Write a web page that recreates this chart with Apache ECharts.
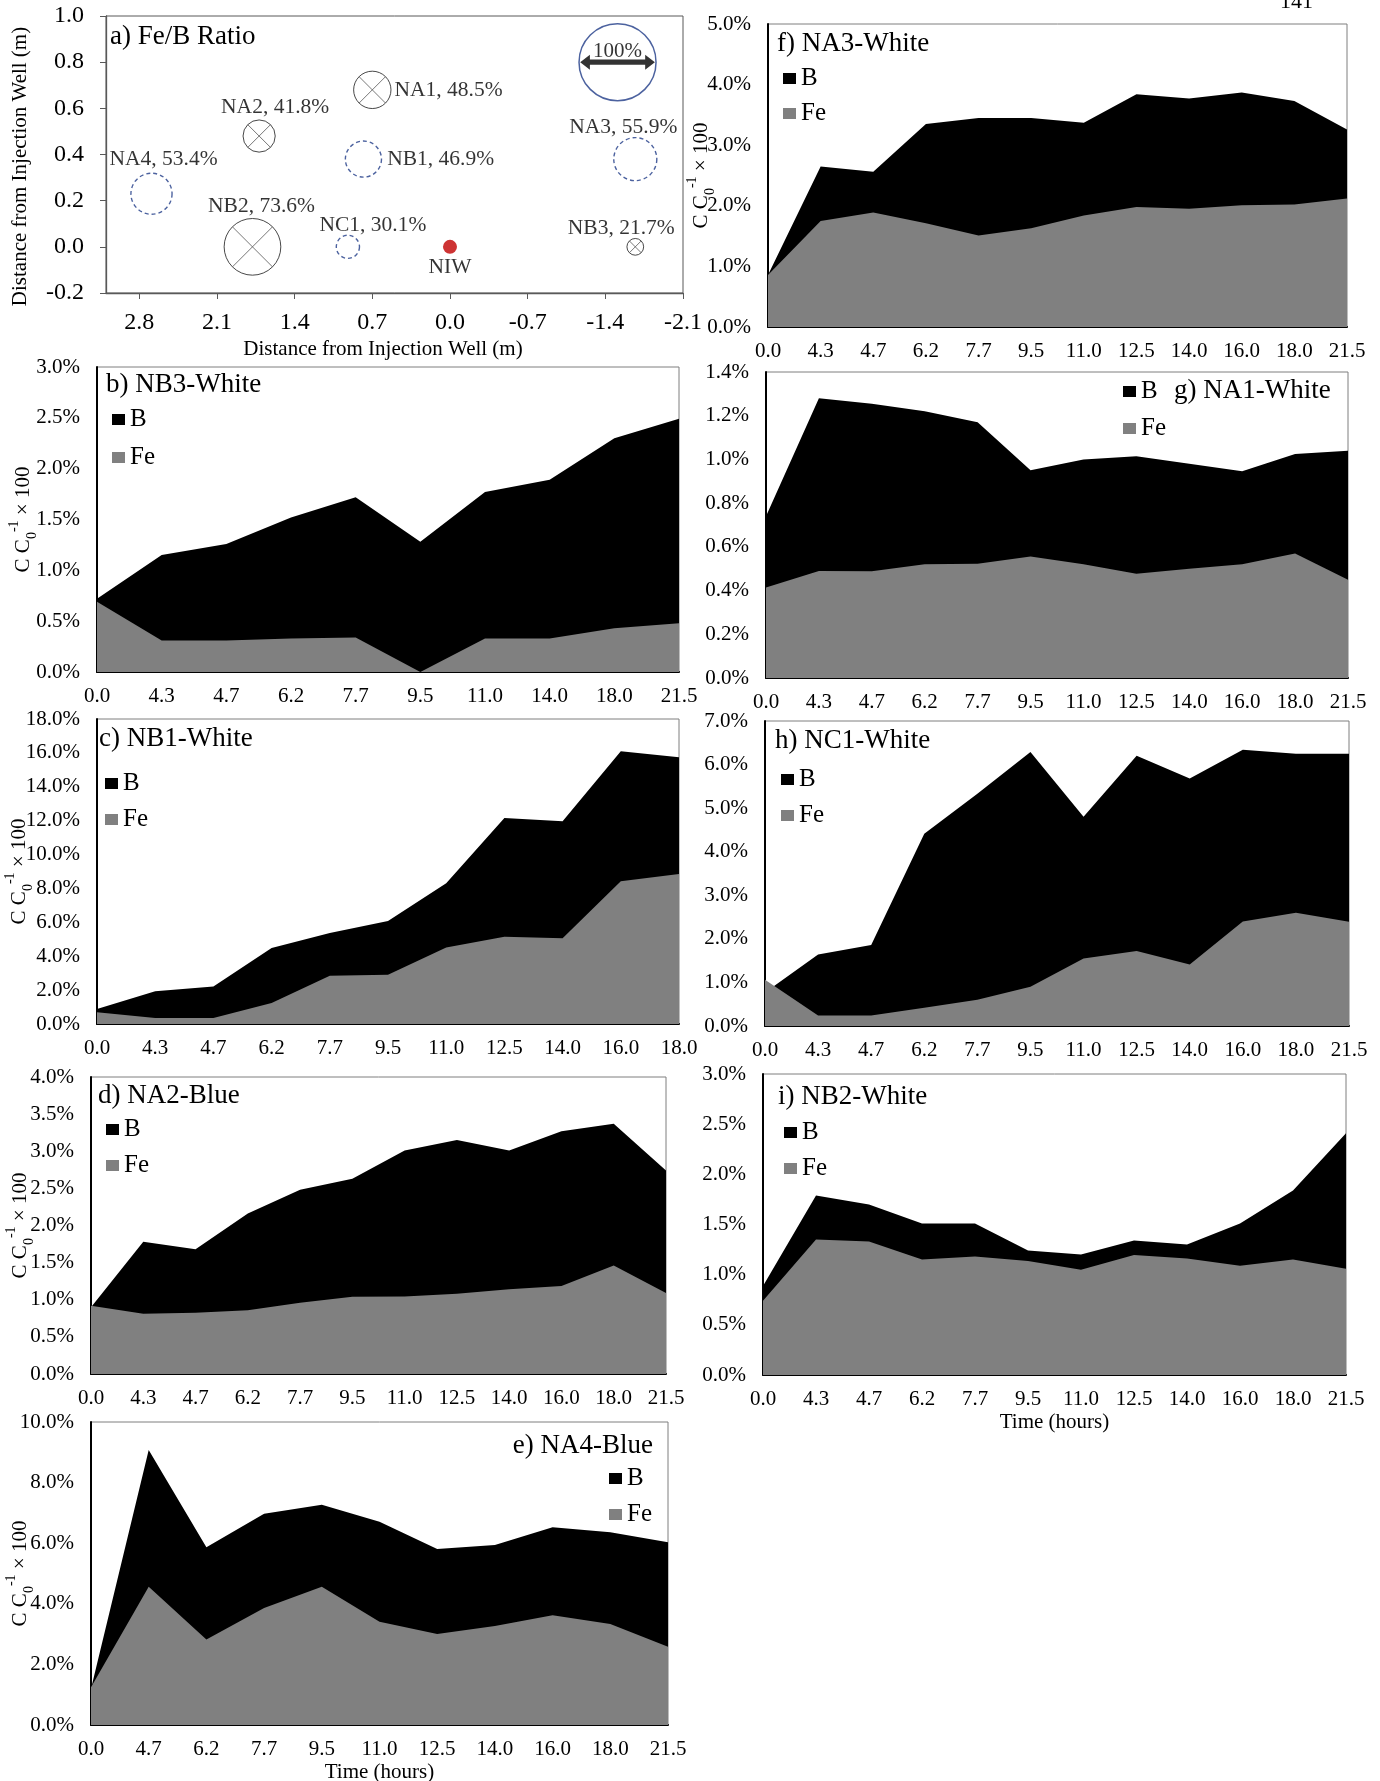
<!DOCTYPE html>
<html><head><meta charset="utf-8">
<script src="https://cdn.jsdelivr.net/npm/echarts@6/dist/echarts.min.js"></script>
<style>html,body{margin:0;padding:0;background:#fff}#c{width:1380px;height:1781px}</style>
</head><body><div id="c"></div>
<script>
// ---------- Panel a: Fe/B ratio map ----------
const wellNames = ['NA1','NA2','NA4','NB1','NB2','NC1','NA3','NB3'];
const wellX     = [0.70, 1.72, 2.69, 0.78, 1.78, 0.92, -1.67, -1.67];
const wellY     = [0.68, 0.48, 0.23, 0.38, 0.00, 0.00, 0.38, 0.00];
const wellRatio = [48.5, 41.8, 53.4, 46.9, 73.6, 30.1, 55.9, 21.7];
const injName = 'NIW', injX = 0.0, injY = 0.0;
const refLabel = '100%', refRatio = 100, refX = -1.51, refY = 0.80;

// ---------- Area panels (values in %) ----------
const catF = ['0.0','4.3','4.7','6.2','7.7','9.5','11.0','12.5','14.0','16.0','18.0','21.5'];
const bF   = [0.86,2.65,2.56,3.35,3.45,3.45,3.37,3.84,3.77,3.87,3.73,3.26];
const feF  = [0.86,1.75,1.89,1.71,1.51,1.63,1.84,1.98,1.95,2.01,2.02,2.12];

const catB = ['0.0','4.3','4.7','6.2','7.7','9.5','11.0','14.0','18.0','21.5'];
const bB   = [0.72,1.15,1.26,1.52,1.72,1.28,1.77,1.89,2.30,2.49];
const feB  = [0.69,0.31,0.31,0.33,0.34,0.00,0.33,0.33,0.43,0.48];

const catG = ['0.0','4.3','4.7','6.2','7.7','9.5','11.0','12.5','14.0','16.0','18.0','21.5'];
const bG   = [0.74,1.28,1.255,1.22,1.17,0.95,1.00,1.015,0.98,0.946,1.025,1.04];
const feG  = [0.414,0.49,0.488,0.52,0.523,0.556,0.52,0.477,0.50,0.52,0.57,0.45];

const catC = ['0.0','4.3','4.7','6.2','7.7','9.5','11.0','12.5','14.0','16.0','18.0'];
const bC   = [0.89,1.93,2.22,4.49,5.37,6.08,8.30,12.16,11.96,16.09,15.74];
const feC  = [0.69,0.35,0.35,1.24,2.85,2.91,4.52,5.15,5.06,8.42,8.85];

const catH = ['0.0','4.3','4.7','6.2','7.7','9.5','11.0','12.5','14.0','16.0','18.0','21.5'];
const bH   = [0.77,1.64,1.86,4.41,5.33,6.29,4.80,6.20,5.68,6.34,6.25,6.25];
const feH  = [1.06,0.24,0.24,0.42,0.60,0.90,1.55,1.72,1.41,2.40,2.60,2.39];

const catD = ['0.0','4.3','4.7','6.2','7.7','9.5','11.0','12.5','14.0','16.0','18.0','21.5'];
const bD   = [0.90,1.78,1.68,2.16,2.48,2.63,3.01,3.15,3.01,3.27,3.37,2.74];
const feD  = [0.92,0.81,0.825,0.86,0.96,1.04,1.045,1.08,1.14,1.185,1.46,1.09];

const catI = ['0.0','4.3','4.7','6.2','7.7','9.5','11.0','12.5','14.0','16.0','18.0','21.5'];
const bI   = [0.886,1.79,1.70,1.51,1.51,1.24,1.20,1.34,1.30,1.51,1.84,2.41];
const feI  = [0.74,1.35,1.33,1.15,1.18,1.135,1.05,1.195,1.16,1.09,1.15,1.06];

const catE = ['0.0','4.7','6.2','7.7','9.5','11.0','12.5','14.0','16.0','18.0','21.5'];
const bE   = [1.20,9.08,5.87,6.97,7.27,6.71,5.81,5.94,6.53,6.36,6.03];
const feE  = [1.25,4.56,2.82,3.86,4.56,3.41,3.00,3.27,3.62,3.33,2.58];

// ---------- build ----------
const FONT = '"Liberation Serif","Times New Roman",serif';
const chart = echarts.init(document.getElementById('c'), null, {renderer:'canvas', width:1380, height:1781});

const crossSet = ['NA1','NA2','NB2','NB3'];
const REF_D = 77; // px diameter of 100 %
const labelLayout = {
  NA1:{position:'right', distance:3, offset:[0,0]},
  NA2:{position:'top', distance:1, offset:[16,0]},
  NA4:{position:'top', distance:2, offset:[12,0]},
  NB1:{position:'right', distance:5, offset:[0,0]},
  NB2:{position:'top', distance:1, offset:[9,0]},
  NC1:{position:'top', distance:-2, offset:[25,0]},
  NA3:{position:'top', distance:-1, offset:[-12,0]},
  NB3:{position:'top', distance:-1, offset:[-14,0]}
};
const wells = wellNames.map((n,i)=>({name:n, x:wellX[i], y:wellY[i], r:wellRatio[i]}));
const lblBase = {show:true, fontFamily:FONT, fontSize:21.5, color:'#000'};

const grids = [
  {left:106, top:16,   width:577, height:277},
  {left:768, top:24,   width:579, height:303},
  {left:97,  top:367,  width:582, height:305},
  {left:766, top:372,  width:582, height:306},
  {left:97,  top:719,  width:582, height:305},
  {left:765, top:721,  width:584, height:305},
  {left:91,  top:1077, width:575, height:297},
  {left:763, top:1074, width:583, height:301},
  {left:91,  top:1422, width:577, height:303}
].map((g,i)=>Object.assign({show:true, borderColor: i===0?'#595959':'#7f7f7f', borderWidth:1, backgroundColor:'#fff', containLabel:false, outerBoundsMode:'none'}, g));

const panels = [
  {cats:catF, b:bF, fe:feF, max:5,   int:1,   yName:true,  gap:52, title:'f) NA3-White', tpos:{left:777, top:30},  lg:{left:783, top:66, itemGap:10}},
  {cats:catB, b:bB, fe:feB, max:3,   int:0.5, yName:true,  gap:59, title:'b) NB3-White', tpos:{left:106, top:371}, lg:{left:112, top:407, itemGap:13}},
  {cats:catG, b:bG, fe:feG, max:1.4, int:0.2, yName:false, gap:0,  title:'g) NA1-White', tpos:{left:1174, top:377}, lg:{left:1123, top:379, itemGap:12}},
  {cats:catC, b:bC, fe:feC, max:18,  int:2,   yName:true,  gap:63, title:'c) NB1-White', tpos:{left:99,  top:725}, lg:{left:105, top:771, itemGap:11}},
  {cats:catH, b:bH, fe:feH, max:7,   int:1,   yName:false, gap:0,  title:'h) NC1-White', tpos:{left:775, top:727}, lg:{left:781, top:767, itemGap:11}},
  {cats:catD, b:bD, fe:feD, max:4,   int:0.5, yName:true,  gap:56, title:'d) NA2-Blue',  tpos:{left:98,  top:1082}, lg:{left:106, top:1117, itemGap:11}},
  {cats:catI, b:bI, fe:feI, max:3,   int:0.5, yName:false, gap:0,  title:'i) NB2-White', tpos:{left:778, top:1083}, lg:{left:784, top:1120, itemGap:11}, xName:'Time (hours)'},
  {cats:catE, b:bE, fe:feE, max:10,  int:2,   yName:true,  gap:56, title:'e) NA4-Blue',  tpos:{right:727, top:1432}, lg:{left:609, top:1466, itemGap:11}, xName:'Time (hours)'}
];

const xAxes = [{
  gridIndex:0, type:'value', inverse:true, min:-2.1, max:3.1, interval:0.7,
  axisLine:{show:true, onZero:false, lineStyle:{color:'#595959', width:1.3}},
  axisTick:{show:true, length:6, lineStyle:{color:'#595959'}},
  splitLine:{show:false},
  axisLabel:{showMaxLabel:false, margin:18, fontFamily:FONT, fontSize:24, color:'#000', formatter:v=>v.toFixed(1)},
  name:'Distance from Injection Well (m)', nameLocation:'middle', nameGap:46, nameMoveOverlap:false,
  nameTextStyle:{fontFamily:FONT, fontSize:21, color:'#000', padding:[0,23,0,0]}
}];
const yAxes = [{
  gridIndex:0, type:'value', min:-0.2, max:1.0, interval:0.2,
  axisLine:{show:true, onZero:false, lineStyle:{color:'#595959', width:1.3}},
  axisTick:{show:true, length:6, lineStyle:{color:'#595959'}},
  splitLine:{show:false},
  axisLabel:{margin:22, fontFamily:FONT, fontSize:24, color:'#000', formatter:v=>v.toFixed(1)},
  name:'Distance from Injection Well (m)', nameLocation:'middle', nameGap:75, nameRotate:90, nameMoveOverlap:false,
  nameTextStyle:{fontFamily:FONT, fontSize:21, color:'#000', padding:[0,24,0,0]}
}];
const titles = [{text:'a) Fe/B Ratio', left:110, top:23, padding:0,
  textStyle:{fontFamily:FONT, fontSize:27, fontWeight:'normal', color:'#000', lineHeight:28}}];
const legends = [];
const series = [];

// panel a series
series.push({
  type:'scatter', xAxisIndex:0, yAxisIndex:0, silent:true, symbol:'circle',
  itemStyle:{color:'rgba(0,0,0,0)', borderColor:'#1a1a1a', borderWidth:1},
  label:lblBase,
  data: wells.filter(w=>crossSet.includes(w.name)).map(w=>({
    name:w.name, value:[w.x,w.y], symbolSize:w.r/100*REF_D,
    label:Object.assign({formatter:w.name+', '+w.r+'%'}, labelLayout[w.name])}))
});
series.push({
  type:'scatter', xAxisIndex:0, yAxisIndex:0, silent:true,
  symbol:'path://M0,0L100,100M100,0L0,100',
  itemStyle:{color:'rgba(0,0,0,0)', borderColor:'#555', borderWidth:1},
  data: wells.filter(w=>crossSet.includes(w.name)).map(w=>({
    name:w.name, value:[w.x,w.y], symbolSize:w.r/100*REF_D*0.707}))
});
series.push({
  type:'scatter', xAxisIndex:0, yAxisIndex:0, silent:true, symbol:'circle',
  itemStyle:{color:'rgba(0,0,0,0)', borderColor:'#1f3b87', borderWidth:1.4, borderType:[4,3]},
  label:lblBase,
  data: wells.filter(w=>!crossSet.includes(w.name)).map(w=>({
    name:w.name, value:[w.x,w.y], symbolSize:w.r/100*REF_D,
    label:Object.assign({formatter:w.name+', '+w.r+'%'}, labelLayout[w.name])}))
});
series.push({
  type:'scatter', xAxisIndex:0, yAxisIndex:0, silent:true, symbol:'circle',
  itemStyle:{color:'rgba(0,0,0,0)', borderColor:'#1f3b87', borderWidth:1.5},
  data:[{name:refLabel, value:[refX,refY], symbolSize:refRatio/100*REF_D}]
});
series.push({
  type:'scatter', xAxisIndex:0, yAxisIndex:0, silent:true,
  symbol:'path://M0,50L13,0L13,32L87,32L87,0L100,50L87,100L87,68L13,68L13,100Z',
  itemStyle:{color:'#000'},
  label:{show:true, position:'inside', offset:[0,-11], formatter:refLabel, fontFamily:FONT, fontSize:21, color:'#000'},
  data:[{name:refLabel, value:[refX,refY], symbolSize:[refRatio/100*REF_D*0.97, 15]}]
});
series.push({
  type:'scatter', xAxisIndex:0, yAxisIndex:0, silent:true, symbol:'circle', symbolSize:14,
  itemStyle:{color:'#c00000'},
  label:Object.assign({}, lblBase, {position:'bottom', distance:3, formatter:injName}),
  data:[{name:injName, value:[injX,injY]}]
});

const yNameRich = {
  t:{fontFamily:FONT, fontSize:21, lineHeight:32, color:'#000'},
  sb:{fontFamily:FONT, fontSize:14, lineHeight:14, verticalAlign:'bottom', color:'#000'},
  sp:{fontFamily:FONT, fontSize:14, lineHeight:28, verticalAlign:'top', color:'#000'}
};

panels.forEach((p,k)=>{
  const gi = k+1;
  const xa = {
    gridIndex:gi, type:'category', data:p.cats, boundaryGap:false,
    axisLine:{show:true, onZero:false, lineStyle:{color:'#000', width:2}},
    axisTick:{show:false}, splitLine:{show:false},
    axisLabel:{interval:0, margin:14, fontFamily:FONT, fontSize:21, color:'#000'}
  };
  if (p.xName) Object.assign(xa, {name:p.xName, nameLocation:'middle', nameGap:37, nameMoveOverlap:false,
    nameTextStyle:{fontFamily:FONT, fontSize:21, color:'#000'}});
  xAxes.push(xa);
  const ya = {
    gridIndex:gi, type:'value', min:0, max:p.max, interval:p.int,
    axisLine:{show:true, lineStyle:{color:'#000', width:2}},
    axisTick:{show:false}, splitLine:{show:false},
    axisLabel:{margin:17, fontFamily:FONT, fontSize:21, color:'#000', formatter:v=>v.toFixed(1)+'%'}
  };
  if (p.yName) Object.assign(ya, {name:'{t|C C}{sb|0}{sp|-1}{t| × 100}', nameLocation:'middle', nameRotate:90, nameGap:p.gap-1,
    nameMoveOverlap:false, nameTextStyle:{rich:yNameRich}});
  yAxes.push(ya);
  series.push({name:'B', type:'line', xAxisIndex:gi, yAxisIndex:gi, data:p.b, symbol:'none', silent:true, z:2,
    lineStyle:{width:0}, itemStyle:{color:'#000'}, areaStyle:{color:'#000', opacity:1}});
  series.push({name:'Fe', type:'line', xAxisIndex:gi, yAxisIndex:gi, data:p.fe, symbol:'none', silent:true, z:3,
    lineStyle:{width:0}, itemStyle:{color:'#808080'}, areaStyle:{color:'#808080', opacity:1}});
  titles.push(Object.assign({text:p.title, padding:0,
    textStyle:{fontFamily:FONT, fontSize:27, fontWeight:'normal', color:'#000', lineHeight:28}}, p.tpos));
  legends.push(Object.assign({data:['B','Fe'], orient:'vertical', icon:'rect', itemWidth:13, itemHeight:11,
    padding:0, selectedMode:false, textStyle:{fontFamily:FONT, fontSize:25, color:'#000', lineHeight:24}}, p.lg));
});

chart.setOption({
  animation:false,
  backgroundColor:'#fff',
  grid:grids, xAxis:xAxes, yAxis:yAxes, title:titles, legend:legends, series:series,
  graphic:[{type:'text', left:1280, top:-9, style:{text:'141', font:'22px "Liberation Serif"', fill:'#000'}}]
});
</script></body></html>
